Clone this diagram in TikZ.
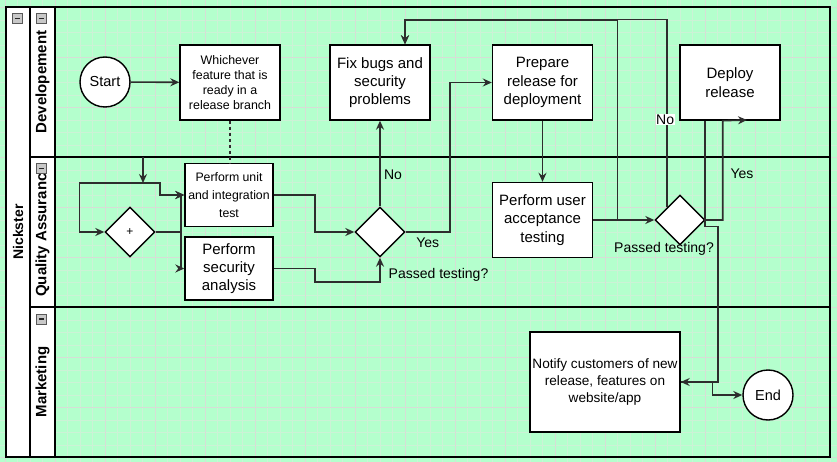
\documentclass[tikz,border=0pt]{standalone}
\usepackage{fontspec}
\setmainfont{Liberation Sans}
\usetikzlibrary{shapes}
\usetikzlibrary{arrows.meta}

\definecolor{swimgreen}{RGB}{180,255,205}
\definecolor{gridfine}{RGB}{204,242,214}
\definecolor{gridbold}{RGB}{214,222,214}
\definecolor{icongray}{RGB}{200,200,200}
\definecolor{wire}{RGB}{45,45,45}

\begin{document}
\begin{tikzpicture}[x=1pt,y=-1pt]
					\tikzstyle{every node}=[font=\fontsize{14}{17}\selectfont]
					\tikzstyle{task}=[rectangle,draw,fill=white,line width=1.4pt,align=center,inner sep=0pt,minimum width=100pt,minimum height=75pt,font=\fontsize{15}{18.3}\selectfont]
					\tikzstyle{smalltask}=[task,minimum width=88pt,minimum height=63pt,font=\fontsize{12.3}{18}\selectfont]
					\tikzstyle{gate}=[diamond,draw,fill=white,line width=1.4pt,minimum width=50pt,minimum height=50pt,inner sep=0pt,font=\fontsize{12}{14}\selectfont]
					\tikzstyle{event}=[circle,draw,fill=white,line width=1.4pt,minimum size=50pt,inner sep=0pt,font=\fontsize{14.5}{17}\selectfont]
					\tikzstyle{flow}=[wire,line width=1.6pt,-{Stealth[length=9pt,width=8pt,inset=3pt]}]
					\tikzstyle{flowlabel}=[text=black]
					\tikzstyle{lanetitle}=[rotate=90,inner sep=0pt,font=\bfseries\fontsize{15}{18}\selectfont]
					\tikzstyle{collapse}=[rectangle,draw=gray!70!black,fill=icongray,line width=0.6pt,minimum size=10pt,inner sep=0pt,
						path picture={\draw[line width=1.6pt,gray!30!black] ([xshift=2.5pt]path picture bounding box.west) -- ([xshift=-2.5pt]path picture bounding box.east);}]
					\useasboundingbox (0,0) rectangle (837,462);
					\fill[swimgreen] (0,0) rectangle (837,462);
					\foreach \i in {0,...,66} \draw[gridfine,line width=0.7pt] ({5.3+12.5*\i},0) -- ++(0,462);
					\foreach \j in {0,...,36} \draw[gridfine,line width=0.7pt] (0,{7.5+12.5*\j}) -- ++(837,0);
					\foreach \i in {0,...,16} \draw[gridbold,line width=0.8pt] ({5.3+50*\i},0) -- ++(0,462);
					\foreach \j in {0,...,9} \draw[gridbold,line width=0.8pt] (0,{7.5+50*\j}) -- ++(837,0);
					\fill[white] (6,7) rectangle (55,457);
					\draw[line width=1.5pt] (6,7) rectangle (830,457);
					\draw[line width=1.5pt] (30,7) -- (30,457) (55,7) -- (55,457);
					\draw[line width=1.5pt] (30,157) -- (830,157) (30,307) -- (830,307);
					\node[lanetitle,font=\bfseries\fontsize{14}{17}\selectfont] (pool) at (18,232) {Nickster};
					\node[lanetitle] (devlane) at (42.5,82) {Developement};
					\begin{scope}
						\clip (31,160) rectangle (54,306);
						\node[lanetitle,anchor=west] (qalane) at (42.5,297) {Quality Assurance};
					\end{scope}
					\node[lanetitle] (mklane) at (42.5,382) {Marketing};
					\node[collapse] (poolmin) at (17,18.5) {};
					\node[collapse] (devmin) at (41.5,18.5) {};
					\node[collapse] (qamin) at (41.5,168.5) {};
					\node[collapse] (mkmin) at (41.5,319) {};
					\node[event] (start) at (105,82) {Start};
					\node[task,font=\fontsize{12.4}{15}\selectfont] (feature) at (230,82.5) {Whichever\\feature that is\\ready in a\\release branch};
					\node[task] (fix) at (380,82.5) {Fix bugs and\\security\\problems};
					\node[task] (prep) at (542.5,82.5) {Prepare\\release for\\deployment};
					\node[task] (deploy) at (730,82.5) {Deploy\\release};
					\node[smalltask] (unit) at (229,195) {Perform unit\\and integration\\test};
					\node[smalltask,font=\fontsize{15}{18.3}\selectfont] (secu) at (229,268.5) {Perform\\security\\analysis};
					\node[gate] (par) at (130,232) {+};
					\node[gate] (pass1) at (380,232) {};
					\node[task] (uat) at (542.5,220) {Perform user\\acceptance\\testing};
					\node[gate] (pass2) at (680,220) {};
					\node[task,minimum width=150pt,minimum height=100pt,font=\fontsize{13.6}{16.7}\selectfont] (notify) at (605,382) {Notify customers of new\\release, features on\\website/app};
					\node[event] (stop) at (768,395) {End};
					\node (q1) at (438.5,275) {Passed testing?};
					\node (q2) at (664,249) {Passed testing?};
					\coordinate (inflow) at (143,157);
					\coordinate (split) at (143,183);
					\coordinate (yesend) at (747,120);
					\draw[flow] (start) -- (feature);
					\draw[wire,line width=1.6pt,dashed] (feature.south) -- (feature.south |- unit.north);
					\draw[flow] (inflow) -- (split);
					\draw[flow] (split) -- ++(17,0) |- (unit.west);
					\draw[flow] (split) -| ([xshift=-25pt]par.west) -- (par.west);
					\draw[flow] (par.east) -- ++(25,0) |- (unit.west);
					\draw[flow] (par.east) -- ++(25,0) |- (secu.west);
					\draw[flow] (unit.east) -- ++(41,0) |- (pass1.west);
					\draw[flow] (secu.east) -- ++(41,0) -- ++(0,13.5) -| (pass1.south);
					\draw[flow] (pass1.north) -- (fix.south) node[pos=0.37,right,flowlabel] {No};
					\draw[flow] (pass1.east) -- ++(44,0) node[midway,below=2pt,flowlabel] {Yes} |- (prep.west);
					\draw[flow] (prep.south) -- (uat.north);
					\draw[flow] (uat.east) -- (pass2.west);
					\draw[flow] (uat.east) -| (617.5,20) -| ([xshift=25pt]fix.north);
					\draw[flow] (pass2.135) -- ++(0,-187.5) node[pos=0.467,flowlabel,fill=white,inner sep=0.5pt,xshift=-2pt] {No} -| ([xshift=25pt]fix.north);
					\draw[flow] (pass2.east) -| ([xshift=-7.3pt]deploy.south) -- (yesend);
					\node (yes2) at (742,174) {Yes};
					\draw[flow] ([xshift=-25pt]deploy.south) -- ++(0,106) -- ++(12.7,0) |- (notify.east);
					\draw[flow] (notify.east) -- ++(31.7,0) |- (stop.west);
\end{tikzpicture}
\end{document}
